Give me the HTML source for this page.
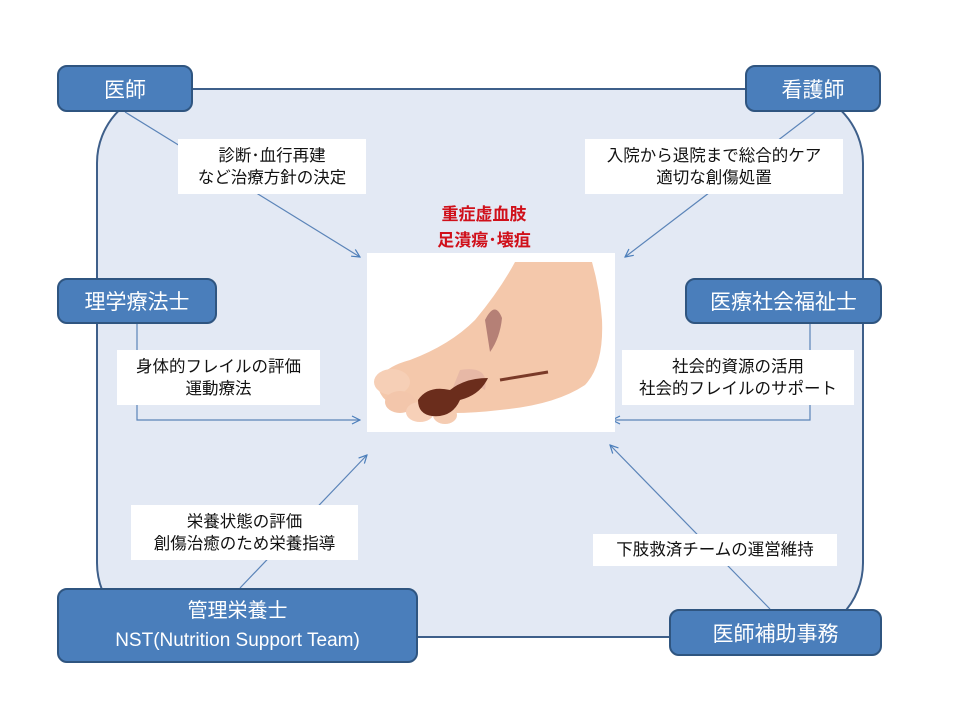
<!DOCTYPE html>
<html><head><meta charset="utf-8"><style>
body{margin:0;width:960px;height:720px;background:#fff;position:relative;overflow:hidden;font-family:"Liberation Sans","Noto Sans CJK JP",sans-serif}
.bg{position:absolute;left:96px;top:88px;width:768px;height:550px;background:#e3e9f4;border:2.5px solid #3e5f8a;border-radius:75px;box-sizing:border-box}
.b{position:absolute;background:#4a7ebb;border:2.5px solid #2f5580;border-radius:10px;color:#fff;box-sizing:border-box;display:flex;align-items:center;justify-content:center;text-align:center;font-size:21px}
.l{position:absolute;background:#fff;color:#111;box-sizing:border-box;display:flex;align-items:center;justify-content:center;text-align:center;font-size:16.5px;line-height:22px}
svg{position:absolute;left:0;top:0}
</style></head><body>
<div class="bg"></div>
<svg width="960" height="720">
<defs><marker id="a" markerWidth="10" markerHeight="10" refX="9" refY="5" orient="auto" markerUnits="userSpaceOnUse"><path d="M1,1 L9,5 L1,9" fill="none" stroke="#4a7ebb" stroke-width="1.2"/></marker></defs>
<g stroke="#5b84b8" stroke-width="1.2" fill="none">
<line x1="125" y1="112" x2="360" y2="257" marker-end="url(#a)"/>
<line x1="815" y1="112" x2="625" y2="257" marker-end="url(#a)"/>
<polyline points="137,323 137,420 360,420" marker-end="url(#a)"/>
<polyline points="810,323 810,420 612,420" marker-end="url(#a)"/>
<line x1="240" y1="588" x2="367" y2="455" marker-end="url(#a)"/>
<line x1="770" y1="609" x2="610" y2="445" marker-end="url(#a)"/>
</g>
<rect x="367" y="253" width="248" height="179" fill="#fff"/>
<g>
<path d="M515,262 L592,262 Q600,290 602,320 Q604,365 585,385 Q555,405 500,410 Q450,416 410,410 Q380,405 378,385 Q380,368 410,360 Q450,345 475,320 Q500,290 515,262Z" fill="#f4c8ab"/>
<ellipse cx="392" cy="382" rx="18" ry="13" fill="#f6cfb6"/>
<ellipse cx="400" cy="402" rx="15" ry="11" fill="#f3c6ab"/>
<ellipse cx="420" cy="412" rx="14" ry="10" fill="#f7d0b8"/>
<ellipse cx="445" cy="415" rx="12" ry="9" fill="#f5ccb2"/>
<path d="M460,370 Q490,365 485,390 Q470,380 450,395Z" fill="#e7b8a6"/>
<path d="M418,400 Q428,385 450,390 Q465,378 488,378 Q480,395 460,400 Q452,418 432,416 Q418,414 418,400Z" fill="#6b2d1c"/>
<path d="M485,320 Q495,300 502,318 Q500,338 490,352Z" fill="#b58076"/>
<path d="M500,380 L548,372" stroke="#7a3a28" stroke-width="3"/>
</g>
</svg>
<div style="position:absolute;left:384px;top:202px;width:200px;text-align:center;color:#d0101a;font-size:17px;font-weight:bold;line-height:26px">重症虚血肢<br>足潰瘍･壊疽</div>
<div class="b" style="left:57px;top:65px;width:136px;height:47px">医師</div>
<div class="b" style="left:745px;top:65px;width:136px;height:47px">看護師</div>
<div class="b" style="left:57px;top:278px;width:160px;height:46px">理学療法士</div>
<div class="b" style="left:685px;top:278px;width:197px;height:46px">医療社会福祉士</div>
<div class="b" style="left:57px;top:588px;width:361px;height:75px;flex-direction:column;font-size:20px;line-height:30px">管理栄養士<br><span style="font-size:19px">NST(Nutrition Support Team)</span></div>
<div class="b" style="left:669px;top:609px;width:213px;height:47px">医師補助事務</div>
<div class="l" style="left:178px;top:139px;width:188px;height:55px">診断･血行再建<br>など治療方針の決定</div>
<div class="l" style="left:585px;top:139px;width:258px;height:55px">入院から退院まで総合的ケア<br>適切な創傷処置</div>
<div class="l" style="left:117px;top:350px;width:203px;height:55px">身体的フレイルの評価<br>運動療法</div>
<div class="l" style="left:622px;top:350px;width:232px;height:55px">社会的資源の活用<br>社会的フレイルのサポート</div>
<div class="l" style="left:131px;top:505px;width:227px;height:55px">栄養状態の評価<br>創傷治癒のため栄養指導</div>
<div class="l" style="left:593px;top:534px;width:244px;height:32px">下肢救済チームの運営維持</div>
</body></html>
